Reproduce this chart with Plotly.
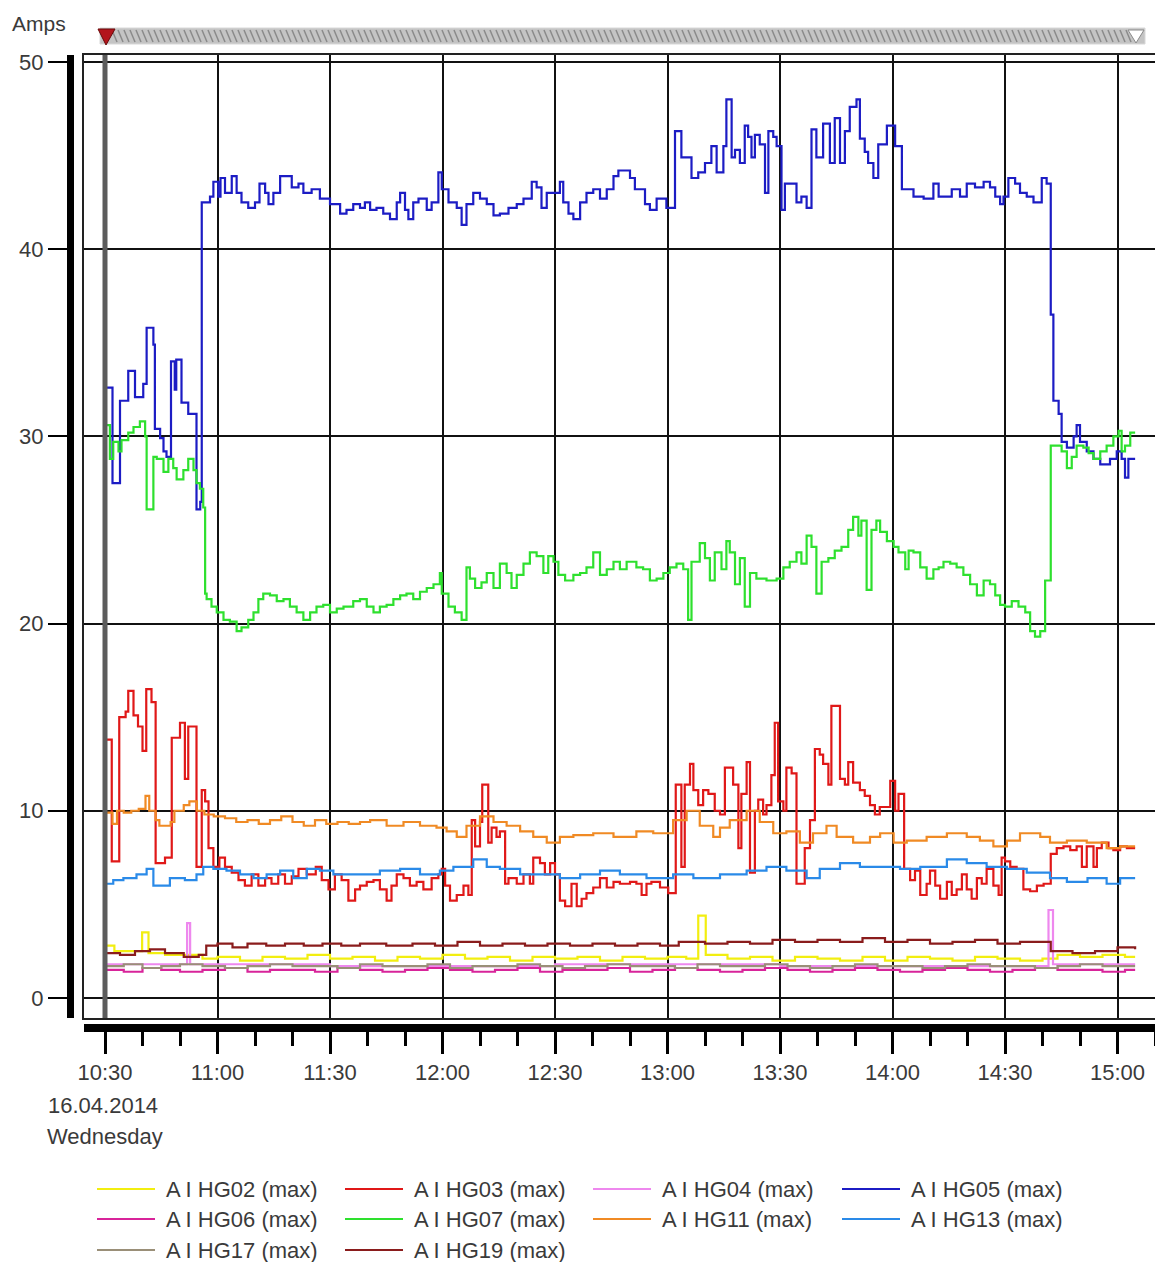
import pandas as pd
import plotly.graph_objects as go

# ---------------- data (minutes after 10:30, amps) ----------------
BASE = pd.Timestamp("2014-04-16 10:30:00")

hg05_t = [0.5, 2.0, 4.0, 6.2, 8.0, 10.2, 11.1, 12.9, 13.3, 14.7, 15.6, 16.4, 17.6, 18.6, 19.0, 20.4, 22.2, 24.4, 25.4, 25.8,
          28.0, 28.9, 30.2, 30.8, 32.0, 33.8, 35.1, 36.4, 38.2, 40.0, 41.2, 42.7, 43.6, 44.9, 46.7, 49.8, 51.6, 52.9, 55.1, 57.3,
          60.0, 62.7, 64.4, 66.2,
          68.0, 69.3, 70.7, 72.4, 74.2, 76.0, 77.8, 78.7, 80.0, 80.9, 82.2, 83.6, 85.8, 87.1, 88.9, 89.8, 91.6, 93.8, 95.1, 96.4,
          98.2, 100.0, 101.8, 103.6, 105.3, 107.6, 109.8, 111.6, 113.8, 115.1, 116.4, 117.8, 121.3, 122.2, 123.6, 124.9, 126.7,
          128.4, 130.2, 132.0, 133.8, 135.6, 136.9,
          140.0, 141.3, 144.0, 145.3, 147.1, 149.7, 152.0, 153.7, 156.4, 158.2, 160.0, 161.7, 163.1, 164.9, 165.7, 167.1, 168.0,
          169.3, 170.6, 171.5, 172.4, 173.3, 174.6, 176.0, 176.9, 178.2, 179.1, 180.4, 181.3, 184.4, 185.7, 187.1, 188.4, 189.7,
          191.5, 193.3, 194.6, 196.0, 197.3, 198.6, 200.4, 201.3, 202.6, 203.5, 204.9, 206.2,
          208.5, 210.7, 212.5, 215.6, 218.3, 220.9, 222.3, 225.8, 228.0, 229.8, 232.0, 234.3, 236.0, 237.4, 238.7, 239.6, 240.9,
          242.7, 244.0, 245.8, 247.6, 249.8, 251.1, 252.2, 252.9, 254.3, 255.1, 256.5, 258.3, 259.1, 260.0, 261.8, 263.6, 265.4,
          268.0, 269.8, 271.1, 272.0, 272.9, 274.7]
hg05_v = [32.6, 27.5, 31.9, 33.5, 32.1, 32.8, 35.8, 34.9, 30.4, 29.9, 29.2, 28.9, 34.0, 32.5, 34.1, 31.8, 31.2, 26.1, 26.5, 42.5,
          42.8, 43.6, 42.8, 43.8, 43.0, 43.9, 43.0, 42.5, 42.2, 42.5, 43.5, 43.0, 42.4, 43.0, 43.9, 43.3, 43.5, 43.0, 43.2, 42.7,
          42.4, 41.9, 42.1, 42.4,
          42.2, 42.5, 42.1, 42.2, 41.9, 41.6, 42.5, 43.0, 42.1, 41.6, 42.5, 42.7, 42.1, 42.5, 44.1, 43.2, 42.5, 42.2, 41.3, 42.4,
          43.0, 42.7, 42.4, 41.8, 41.9, 42.2, 42.4, 42.7, 43.6, 43.3, 42.2, 43.0, 43.6, 42.5, 41.9, 41.6, 42.5,
          43.0, 43.2, 42.7, 43.2, 43.9, 44.2,
          43.8, 43.2, 42.4, 42.1, 42.7, 42.2, 46.3, 44.9, 43.8, 44.1, 44.6, 45.5, 44.1, 45.5, 48.0, 44.9, 45.3,
          44.6, 46.6, 46.0, 44.9, 46.1, 45.6, 43.0, 46.3, 46.0, 45.5, 42.1, 43.5, 42.5, 42.8, 42.2, 46.4, 44.9,
          46.7, 44.6, 47.0, 44.6, 46.3, 47.6, 48.0, 45.9, 45.2, 44.6, 43.8, 45.6,
          46.6, 45.5, 43.2, 42.8, 42.7, 43.5, 42.8, 43.2, 42.8, 43.5, 43.3, 43.6, 43.3, 42.8, 42.4, 42.8, 43.8,
          43.5, 43.0, 42.8, 42.5, 43.8, 43.5, 36.5, 31.9, 31.2, 29.7, 29.4, 30.0, 30.6, 29.7, 29.2, 28.8, 28.5,
          28.8, 29.2, 28.8, 27.8, 28.8, 28.8]

hg07_t = [0.5, 1.3, 2.2, 3.6, 4.4, 6.2, 7.6, 9.3, 10.7, 11.1, 12.9, 13.8, 15.6, 16.9, 18.2, 19.1, 20.9, 22.2, 23.6, 24.4,
          25.3, 26.2, 26.7, 27.1, 28.4, 29.8, 31.6, 33.3, 35.1, 36.4, 38.2, 39.6, 40.9, 42.2, 44.0, 45.8, 47.6, 49.3, 51.1, 52.9,
          54.7, 56.4, 58.2, 60.0, 61.8, 63.6, 66.2,
          68.0, 69.8, 71.6, 73.3, 75.1, 76.9, 78.7, 80.4, 82.2, 84.0, 85.8, 87.6, 89.3, 89.8, 91.6, 93.3, 95.1, 96.4, 97.3, 98.7,
          100.4, 101.8, 103.6, 105.3, 107.1, 108.4, 109.8, 111.6, 113.3, 115.1, 116.9, 118.2, 119.6, 120.9, 122.7, 124.9, 126.7,
          128.4, 130.2, 132.0, 133.8, 135.6,
          137.3, 139.1, 141.7, 143.5, 145.3, 147.1, 148.9, 150.6, 152.4, 154.2, 155.5, 156.4, 158.6, 160.0, 161.3, 162.6, 164.4,
          165.7, 166.6, 168.0, 169.3, 170.6, 172.0, 173.7, 176.4, 179.1, 180.9, 182.6, 184.4, 185.7, 187.1, 188.4, 189.7, 191.1,
          192.9, 194.6, 196.4, 198.2, 199.5, 200.9, 201.7, 203.1, 204.4, 205.7,
          206.7, 208.5, 210.3, 211.6, 213.4, 214.3, 215.6, 217.4, 219.1, 220.9, 222.3, 223.6, 225.4, 227.1, 228.9, 230.7, 232.5,
          234.3, 236.0, 237.4, 238.7, 240.0, 241.8, 243.6, 245.4, 246.7, 248.0, 249.4, 250.7, 252.2, 253.8, 255.1, 256.5, 257.8,
          259.1, 260.9, 262.3, 263.6, 265.4, 267.1, 268.9, 270.3, 271.1, 272.0, 273.4, 274.7]
hg07_v = [30.6, 28.8, 29.7, 29.2, 29.8, 30.2, 30.5, 30.8, 30.0, 26.1, 28.9, 28.8, 28.1, 28.8, 28.3, 27.7, 28.2, 28.8, 28.2, 27.5,
          27.2, 26.2, 21.6, 21.3, 20.9, 20.6, 20.2, 20.1, 19.6, 19.8, 20.2, 20.6, 21.3, 21.6, 21.5, 21.2, 21.3, 20.9, 20.6, 20.2,
          20.6, 20.9, 21.0, 20.6, 20.8, 20.9, 21.2,
          21.3, 20.9, 20.6, 20.9, 21.0, 21.3, 21.5, 21.6, 21.3, 21.7, 21.9, 22.1, 22.7, 21.6, 20.9, 20.6, 20.2, 23.0, 22.4, 21.9,
          22.2, 22.7, 21.9, 23.2, 22.7, 21.9, 22.6, 23.2, 23.8, 23.6, 22.7, 23.6, 23.3, 22.6, 22.3, 22.6, 22.7,
          23.0, 23.8, 22.6, 22.9, 23.3,
          22.9, 23.3, 23.0, 22.9, 22.3, 22.4, 22.7, 23.0, 23.2, 22.9, 20.2, 23.3, 24.3, 23.5, 22.3, 23.8, 22.9,
          24.4, 23.8, 22.1, 23.5, 20.9, 22.7, 22.4, 22.3, 22.4, 23.0, 23.3, 23.8, 23.2, 24.7, 24.1, 21.6, 23.3,
          23.5, 23.9, 24.1, 25.0, 25.7, 24.7, 25.5, 21.8, 25.0, 25.5,
          24.9, 24.4, 24.1, 23.8, 22.9, 23.9, 23.8, 23.0, 22.4, 22.9, 23.0, 23.3, 23.2, 23.0, 22.6, 22.1, 21.5,
          22.3, 22.1, 21.5, 21.0, 20.9, 21.2, 20.9, 20.6, 19.6, 19.3, 19.6, 22.3, 29.5, 29.5, 29.2, 28.3, 28.9,
          29.5, 29.4, 29.1, 28.8, 29.2, 29.5, 30.0, 30.3, 29.2, 29.5, 30.2, 30.2]

hg03_t = [0.5, 1.8, 3.8, 5.5, 6.2, 7.6, 8.8, 10.0, 11.0, 12.4, 13.5, 16.0, 17.8, 20.0, 21.3, 22.2, 24.4, 25.8, 26.7, 27.6,
          28.9, 30.5, 32.0, 33.8, 35.6, 37.3, 39.1, 40.9, 42.7, 44.4, 46.2, 48.0, 49.8, 51.6, 53.8, 56.2, 57.8, 59.6, 61.3, 63.1,
          64.9, 66.7,
          68.0, 69.8, 71.6, 73.3, 75.1, 76.4, 77.8, 79.6, 81.3, 83.1, 84.9, 87.1, 88.9, 89.8, 90.7, 92.0, 93.8, 95.6, 96.9, 97.8,
          98.7, 100.0, 100.6, 102.2, 103.1, 104.4, 105.3, 106.7, 107.6, 109.8, 111.6, 113.3, 114.2, 116.0, 117.3, 118.7, 120.0,
          121.3, 122.7, 124.4, 125.8, 127.1, 128.4, 130.2, 132.0, 133.8, 135.6,
          137.3, 140.0, 141.7, 143.1, 144.4, 145.7, 148.0, 150.2, 152.2, 153.7, 154.6, 156.0, 156.9, 158.2, 159.5, 160.9, 162.6,
          164.0, 165.3, 167.5, 168.9, 169.7, 171.1, 172.0, 173.3, 174.2, 175.5, 176.4, 177.7, 178.6, 179.5, 180.9, 181.7, 183.1,
          184.4, 186.6, 188.0, 189.3, 190.6, 191.5, 192.9, 193.7, 196.0, 197.3, 198.2, 199.5, 201.3, 202.6, 204.0, 205.3, 206.6,
          209.4, 210.7, 211.6, 213.1, 214.7, 216.0, 217.4, 219.1, 220.0, 221.4, 222.7, 224.5, 225.8, 227.1, 228.5, 229.8, 231.1,
          232.5, 233.8, 235.1, 236.9, 238.3, 239.1, 240.0, 241.4, 243.1, 244.9, 246.7, 248.5, 250.3, 252.2, 253.8, 255.6, 257.4,
          259.1, 260.5, 261.8, 263.6, 264.5, 265.8, 267.6, 268.9, 270.7, 272.5, 274.7]
hg03_v = [13.8, 7.3, 15.0, 15.3, 16.4, 15.1, 14.5, 13.2, 16.5, 15.8, 7.2, 7.5, 13.9, 14.7, 11.7, 14.5, 7.0, 11.1, 10.5, 8.0,
          7.0, 7.5, 7.0, 6.7, 6.3, 6.0, 6.6, 6.0, 6.4, 6.1, 6.6, 6.1, 6.5, 6.9, 6.6, 7.0, 6.3, 5.8, 6.6, 6.3,
          5.2, 5.8,
          6.0, 6.2, 6.3, 5.8, 5.2, 6.0, 6.6, 6.4, 6.0, 6.2, 5.8, 6.4, 6.6, 6.9, 6.0, 5.2, 5.5, 6.0, 5.5, 9.5,
          8.1, 9.4, 11.4, 8.3, 9.1, 8.6, 8.9, 6.1, 6.4, 6.1, 6.6, 6.1, 7.5, 7.2, 6.6, 7.2, 6.6,
          5.2, 4.9, 6.1, 4.9, 5.3, 5.6, 5.9, 6.4, 5.9, 6.2,
          6.1, 6.2, 6.1, 5.5, 6.1, 6.2, 5.9, 5.6, 11.4, 7.0, 11.4, 12.5, 11.1, 10.3, 11.1, 10.9, 10.0,
          9.8, 12.3, 11.4, 8.0, 10.9, 12.6, 6.7, 10.0, 10.6, 9.8, 10.3, 11.9, 14.7, 10.5, 10.0, 12.3, 12.0,
          6.1, 8.0, 9.5, 13.3, 13.0, 12.5, 11.4, 15.6, 11.7, 11.4, 12.6, 11.5, 11.1, 10.8, 10.3, 9.8, 10.2,
          11.6, 10.0, 10.9, 6.9, 6.3, 6.8, 5.5, 6.1, 6.8, 6.0, 5.3, 6.2, 5.5, 5.8, 6.6, 5.8, 5.3,
          6.4, 6.1, 6.9, 6.0, 5.5, 7.5, 7.3, 7.0, 6.9, 5.8, 5.7, 6.0, 6.1, 7.7, 8.0, 8.1, 7.9,
          8.1, 7.0, 8.1, 7.0, 8.0, 8.3, 8.0, 7.9, 8.1, 8.0, 8.0]

hg11_t = [0.5, 2.0, 3.2, 5.0, 7.0, 9.0, 10.8, 11.8, 13.5, 14.5, 17.5, 18.5, 21.0, 22.5, 24.5, 26.5, 29.0, 32.0, 35.0, 38.0,
          41.0, 44.0, 47.0, 50.0, 53.0, 56.0, 59.0, 62.0, 65.0, 68.0, 70.7, 75.1, 79.6, 84.0, 88.4, 91.1, 93.8, 96.4, 100.0, 103.6,
          107.1, 110.7, 114.2, 117.8, 121.3, 124.9, 130.2, 135.6, 141.7, 146.2, 151.5, 155.1, 158.6, 162.2, 164.0, 166.6, 171.1,
          174.6, 178.2, 181.7, 185.3, 188.8, 192.4, 195.1, 199.5, 204.0, 206.7, 210.3, 213.8, 219.1, 224.5, 229.8, 233.3, 236.9,
          240.5, 244.0, 249.4, 252.0, 256.5, 261.8, 267.1, 270.7, 274.7]
hg11_v = [9.9, 9.3, 10.0, 9.9, 10.0, 10.1, 10.8, 10.0, 9.5, 9.2, 9.4, 10.0, 10.3, 10.5, 10.0, 9.8, 9.7, 9.6, 9.4, 9.5,
          9.3, 9.5, 9.7, 9.4, 9.2, 9.5, 9.3, 9.4, 9.3, 9.4, 9.5, 9.2, 9.4, 9.2, 9.1, 8.9, 8.6, 9.2, 9.7, 9.4,
          9.2, 8.9, 8.6, 8.3, 8.6, 8.7, 8.8, 8.6, 8.9, 8.8, 9.5, 10.0, 9.2, 8.6, 9.1, 9.5, 10.0,
          9.4, 8.8, 8.9, 8.3, 8.8, 9.2, 8.6, 8.3, 8.6, 8.8, 8.3, 8.4, 8.6, 8.8, 8.6, 8.4, 8.1,
          8.4, 8.8, 8.6, 8.3, 8.4, 8.3, 8.0, 8.1, 8.1]

hg13_t = [0.5, 2.2, 4.9, 8.4, 11.1, 12.9, 17.3, 21.3, 24.4, 26.2, 28.9, 32.4, 36.0, 39.6, 43.1, 46.7, 50.2, 53.8, 57.3, 60.9,
          65.3, 68.0, 73.3, 78.7, 84.0, 89.3, 92.9, 98.2, 101.8, 105.3, 110.7, 116.0, 121.3, 126.7, 132.0, 137.3, 144.4, 151.5,
          156.9, 164.0, 171.1, 176.4, 181.7, 187.1, 190.6, 196.0, 201.3, 206.7, 212.0, 217.4, 224.5, 229.8, 235.1, 240.5, 245.8,
          252.0, 256.5, 262.0, 267.1, 270.7, 274.7]
hg13_v = [6.1, 6.3, 6.4, 6.6, 6.9, 6.0, 6.4, 6.3, 6.6, 7.0, 6.9, 6.8, 6.6, 6.4, 6.6, 6.8, 6.4, 6.9, 6.8, 6.6,
          6.6, 6.6, 6.8, 6.9, 6.6, 6.8, 7.0, 7.4, 7.0, 6.9, 6.6, 6.6, 6.4, 6.6, 6.8, 6.6, 6.4, 6.6,
          6.4, 6.6, 6.8, 7.0, 6.8, 6.4, 6.9, 7.2, 7.0, 7.0, 6.9, 7.0, 7.4, 7.2, 7.0, 6.9, 6.7,
          6.4, 6.2, 6.4, 6.1, 6.4, 6.4]

hg19_t = [0.5, 4.0, 8.0, 12.0, 16.0, 21.0, 25.0, 27.0, 30.0, 34.0, 38.0, 43.0, 48.0, 53.0, 58.0, 63.0, 68.0, 75.0, 82.0, 88.0,
          94.0, 100.0, 106.0, 112.0, 118.0, 124.0, 130.0, 136.0, 142.0, 148.0, 153.0, 160.0, 166.0, 172.0, 178.0, 184.0, 190.0,
          196.0, 202.0, 208.0, 214.0, 220.0, 226.0, 232.0, 238.0, 244.0, 252.2, 258.0, 264.0, 270.0, 274.7]
hg19_v = [2.4, 2.3, 2.5, 2.6, 2.4, 2.2, 2.3, 2.8, 2.9, 2.7, 2.9, 2.8, 2.9, 2.8, 2.9, 2.8, 2.9, 2.8, 2.9, 2.8,
          3.0, 2.8, 2.9, 2.8, 2.9, 2.8, 2.9, 2.8, 2.9, 2.8, 3.0, 2.9, 3.0, 2.9, 3.1, 3.0, 3.1,
          3.0, 3.2, 3.0, 3.1, 2.9, 3.0, 3.1, 2.9, 3.0, 2.5, 2.4, 2.5, 2.7, 2.6]

hg02_t = [0.5, 2.5, 9.9, 11.6, 16.0, 22.0, 26.0, 30.0, 36.0, 42.0, 48.0, 54.0, 60.0, 66.0, 72.0, 78.0, 84.0, 90.0, 96.0, 102.0,
          108.0, 114.0, 120.0, 126.0, 132.0, 138.0, 144.0, 150.0, 155.0, 158.2, 160.2, 166.0, 172.0, 178.0, 184.0, 190.0, 196.0,
          202.0, 208.0, 214.0, 220.0, 226.0, 232.0, 238.0, 244.0, 250.0, 254.0, 260.0, 266.0, 272.0, 274.7]
hg02_v = [2.8, 2.5, 3.5, 2.4, 2.3, 2.3, 2.1, 2.2, 2.0, 2.2, 2.1, 2.3, 2.1, 2.2, 2.0, 2.2, 2.1, 2.3, 2.1, 2.2,
          2.0, 2.2, 2.1, 2.2, 2.0, 2.2, 2.1, 2.2, 2.1, 4.4, 2.3, 2.1, 2.2, 2.0, 2.2, 2.1, 2.0,
          2.2, 2.0, 2.2, 2.1, 2.0, 2.2, 2.1, 2.0, 2.1, 2.3, 2.2, 2.3, 2.2, 2.2]

hg04_t = [0.5, 21.9, 22.7, 60.0, 120.0, 180.0, 251.6, 252.8, 274.7]
hg04_v = [1.8, 4.0, 1.8, 1.7, 1.8, 1.7, 4.7, 1.8, 1.8]

low_t = [0.5, 5, 10, 15, 20, 26, 32, 38, 44, 50, 56, 62, 68, 74, 80, 86, 92, 98, 104, 110, 116, 122, 128, 134, 140, 146,
         152, 158, 164, 170, 176, 182, 188, 194, 200, 206, 212, 218, 224, 230, 236, 242, 248, 254, 260, 266, 272, 274.7]
hg06_v = [1.5, 1.4, 1.6, 1.5, 1.4, 1.5, 1.6, 1.4, 1.5, 1.5, 1.4, 1.6, 1.5, 1.4, 1.5, 1.6, 1.5, 1.4, 1.5, 1.6, 1.4, 1.5, 1.5,
          1.6, 1.4, 1.5, 1.6, 1.5, 1.4, 1.5, 1.6, 1.5, 1.4, 1.5, 1.6, 1.5, 1.4, 1.5, 1.6, 1.5, 1.4, 1.5, 1.6, 1.5, 1.5,
          1.4, 1.5, 1.5]
hg17_v = [1.7, 1.8, 1.6, 1.7, 1.8, 1.7, 1.6, 1.7, 1.8, 1.7, 1.7, 1.6, 1.8, 1.7, 1.7, 1.8, 1.6, 1.7, 1.7, 1.8, 1.7, 1.6, 1.7,
          1.8, 1.7, 1.7, 1.6, 1.8, 1.7, 1.7, 1.8, 1.7, 1.6, 1.7, 1.8, 1.7, 1.7, 1.6, 1.7, 1.8, 1.7, 1.7, 1.6, 1.7, 1.8,
          1.7, 1.7, 1.7]

names = ["A I HG02 (max)", "A I HG03 (max)", "A I HG04 (max)", "A I HG05 (max)", "A I HG06 (max)",
         "A I HG07 (max)", "A I HG11 (max)", "A I HG13 (max)", "A I HG17 (max)", "A I HG19 (max)"]
colors = ["#f2ee10", "#e01818", "#ee88ee", "#1c1cc4", "#d8249a",
          "#2ee02e", "#f08a24", "#2a8ae8", "#9a8f78", "#8a1c1c"]

x_ticks_min = [0, 30, 60, 90, 120, 150, 180, 210, 240, 270]
x_tick_text = ["10:30", "11:00", "11:30", "12:00", "12:30", "13:00", "13:30", "14:00", "14:30", "15:00"]
x_minor_min = [10, 20, 40, 50, 70, 80, 100, 110, 130, 140, 160, 170, 190, 200, 220, 230, 250, 260, 280]
y_ticks = [0, 10, 20, 30, 40, 50]

# ---------------- figure ----------------
W, H = 1155, 1262
FONT = "Liberation Sans, Arial, sans-serif"
TXT = "#3a3a3a"
FS = 22


def ts(mins):
    return [BASE + pd.Timedelta(minutes=m) for m in mins]


def px(x):
    return x / W


def py(y):
    return 1 - y / H


series = [
    (hg02_t, hg02_v), (hg03_t, hg03_v), (hg04_t, hg04_v), (hg05_t, hg05_v), (low_t, hg06_v),
    (hg07_t, hg07_v), (hg11_t, hg11_v), (hg13_t, hg13_v), (low_t, hg17_v), (hg19_t, hg19_v),
]

fig = go.Figure()
for (tt, vv), nm, col in zip(series, names, colors):
    fig.add_trace(go.Scatter(x=ts(tt), y=vv, name=nm, mode="lines",
                             line=dict(color=col, width=2.2, shape="hv"),
                             showlegend=False))

# invisible anchor trace for the outer (thick) axes
fig.add_trace(go.Scatter(x=ts([0]), y=[0], xaxis="x2", yaxis="y2", mode="markers",
                         marker=dict(opacity=0), hoverinfo="skip", showlegend=False))

xdom = [84 / W, 1.0]
ydom = [1 - 1018 / H, 1 - 55 / H]
xr = [BASE + pd.Timedelta(minutes=-5.6), BASE + pd.Timedelta(minutes=280)]
yr = [-1.07, 50.37]

fig.update_layout(
    width=W, height=H, autosize=False,
    margin=dict(l=0, r=0, t=0, b=0, autoexpand=False),
    paper_bgcolor="white", plot_bgcolor="white",
    font=dict(family=FONT, size=FS, color=TXT),
    xaxis=dict(type="date", domain=xdom, range=xr, showgrid=True, gridcolor="#111111", gridwidth=2,
               tickmode="linear", tick0=BASE, dtick=30 * 60 * 1000, showticklabels=False, ticks="",
               showline=True, linecolor="#222222", linewidth=2, mirror=True, zeroline=False,
               anchor="y", automargin=False),
    yaxis=dict(domain=ydom, range=yr, showgrid=True, gridcolor="#111111", gridwidth=2,
               tickmode="linear", tick0=0, dtick=10, showticklabels=False, ticks="",
               showline=True, linecolor="#222222", linewidth=2, zeroline=False, anchor="x",
               automargin=False),
    xaxis2=dict(type="date", overlaying="x", anchor="free", position=1 - 1028 / H, domain=xdom, range=xr,
                showgrid=False, zeroline=False, showline=True, linecolor="black", linewidth=8,
                ticks="outside", ticklen=22, tickwidth=3, tickcolor="black",
                tickmode="array", tickvals=ts(x_ticks_min), ticktext=x_tick_text,
                tickfont=dict(family=FONT, size=FS, color=TXT), automargin=False,
                minor=dict(tickmode="array", tickvals=ts(x_minor_min), ticklen=14, tickwidth=3,
                           tickcolor="black", showgrid=False)),
    yaxis2=dict(overlaying="y", anchor="free", position=70 / W, side="left", domain=ydom, range=yr,
                showgrid=False, zeroline=False, showline=True, linecolor="black", linewidth=7,
                ticks="outside", ticklen=19, tickwidth=2, tickcolor="black",
                tickmode="array", tickvals=y_ticks, automargin=False,
                tickfont=dict(family=FONT, size=FS, color=TXT)),
)

shapes = []
# cursor line at 10:30
shapes.append(dict(type="line", xref="x", yref="paper", x0=BASE, x1=BASE, y0=ydom[0], y1=ydom[1],
                   line=dict(color="#5c5c5c", width=5), layer="above"))
# scrollbar
shapes.append(dict(type="rect", xref="paper", yref="paper", x0=px(100), x1=px(1145), y0=py(44), y1=py(28),
                   fillcolor="#c4c4c4", line=dict(color="#d8d8d8", width=1), layer="above"))
for xs in range(112, 1132, 6):
    shapes.append(dict(type="line", xref="paper", yref="paper", x0=px(xs), x1=px(xs + 5), y0=py(30), y1=py(42),
                       line=dict(color="#8a8a8a", width=1.5), layer="above"))
# red marker triangle
shapes.append(dict(type="path", xref="paper", yref="paper",
                   path=f"M {px(98)},{py(29)} L {px(115)},{py(29)} L {px(106)},{py(45)} Z",
                   fillcolor="#b3141c", line=dict(color="#6a0a0a", width=1), layer="above"))
# right end triangle
shapes.append(dict(type="path", xref="paper", yref="paper",
                   path=f"M {px(1128)},{py(30)} L {px(1144)},{py(30)} L {px(1136)},{py(43)} Z",
                   fillcolor="white", line=dict(color="#8a8a8a", width=1), layer="above"))

annotations = [
    dict(text="Amps", x=px(10), y=py(23), xref="paper", yref="paper", xanchor="left", yanchor="middle",
         showarrow=False, font=dict(family=FONT, size=21, color=TXT)),
    dict(text="16.04.2014", x=px(103), y=py(1105), xref="paper", yref="paper", xanchor="center", yanchor="middle",
         showarrow=False, font=dict(family=FONT, size=FS, color=TXT)),
    dict(text="Wednesday", x=px(105), y=py(1136), xref="paper", yref="paper", xanchor="center", yanchor="middle",
         showarrow=False, font=dict(family=FONT, size=FS, color=TXT)),
]

# manual legend
leg_cols = [97, 345, 593, 842]
leg_rows = [1189, 1219, 1250]
for i, (nm, col) in enumerate(zip(names, colors)):
    cx = leg_cols[i % 4]
    ry = leg_rows[i // 4]
    shapes.append(dict(type="line", xref="paper", yref="paper", x0=px(cx), x1=px(cx + 58), y0=py(ry), y1=py(ry),
                       line=dict(color=col, width=2)))
    annotations.append(dict(text=nm, x=px(cx + 67), y=py(ry), xref="paper", yref="paper", xanchor="left",
                            yanchor="middle", showarrow=False, font=dict(family=FONT, size=FS, color=TXT)))

fig.update_layout(shapes=shapes, annotations=annotations)

fig.write_html("out.html", config={"displayModeBar": False},
               post_script="document.body.style.margin='0';document.body.style.overflow='hidden';")
